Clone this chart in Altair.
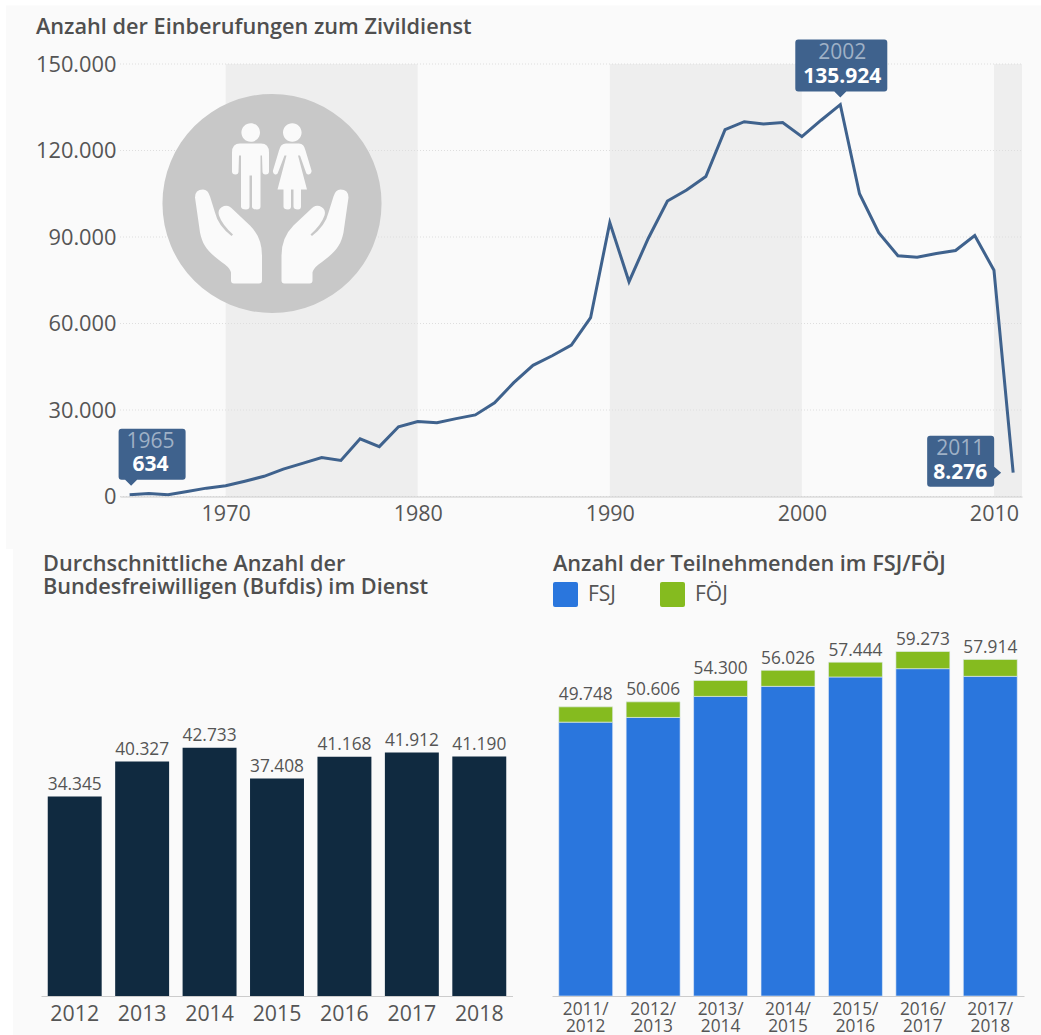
import re

import altair as alt
import pandas as pd

# Zivildienst call-ups per year
years = list(range(1965, 2012))
callups = [634, 1000, 600, 1700, 2900, 3700, 5300, 7000, 9500, 11500,
           13500, 12500, 20000, 17300, 24200, 26000, 25600, 27000, 28300, 32500,
           39500, 45500, 48800, 52500, 62000, 95000, 74500, 89500, 102500, 106300,
           111000, 127200, 130000, 129200, 129700, 124800, 130500, 135924, 105000, 91500,
           83500, 83000, 84300, 85300, 90500, 78500, 8276]
y_ticks = [0, 30000, 60000, 90000, 120000, 150000]
x_ticks = [1970, 1980, 1990, 2000, 2010]
band_start = [1970, 1990, 2010]
band_end = [1980, 2000, 2011.46]

# Bufdis on duty
bufdi_years = ["2012", "2013", "2014", "2015", "2016", "2017", "2018"]
bufdi_values = [34345, 40327, 42733, 37408, 41168, 41912, 41190]

# FSJ / FOEJ participants
seasons = ["2011/2012", "2012/2013", "2013/2014", "2014/2015", "2015/2016", "2016/2017", "2017/2018"]
season_totals = [49748, 50606, 54300, 56026, 57444, 59273, 57914]
fsj_values = [47120, 47930, 51550, 53280, 54890, 56320, 55000]

FONT = "Open Sans"
TEXT = "#555555"
TITLE = "#4f4f4f"
PANEL = "#fafafa"
LINE = "#3f628d"
DE_NUM = "replace(format(%s, ','), ',', '.')"


def unit_path(path, k):
    """Rescale x,y pairs of an M/L/Q/C path to the -1..1 box used by custom symbols."""
    out = []
    for tok in re.findall(r"-?\d+\.?\d*|[MLQCZ]", path):
        out.append(tok if tok in "MLQCZ" else f"{float(tok) / k:.4f}")
    return " ".join(out)


def shifted(path, cx, cy, mirror=None):
    """Move absolute pixel-style coordinates so that (cx, cy) becomes the origin."""
    out, is_x = [], True
    for tok in re.findall(r"-?\d+\.?\d*|[MLQCZ]", path):
        if tok in "MLQCZ":
            out.append(tok)
            continue
        v = float(tok)
        if is_x:
            if mirror is not None:
                v = mirror - v
            out.append(str(v - cx))
        else:
            out.append(str(v - cy))
        is_x = not is_x
    return " ".join(out)


def head(cx, cy, r):
    c = 0.5523 * r
    return (f"M {cx - r} {cy} C {cx - r} {cy - c} {cx - c} {cy - r} {cx} {cy - r} "
            f"C {cx + c} {cy - r} {cx + r} {cy - c} {cx + r} {cy} "
            f"C {cx + r} {cy + c} {cx + c} {cy + r} {cx} {cy + r} "
            f"C {cx - c} {cy + r} {cx - r} {cy + c} {cx - r} {cy} Z")


MAN = ("M 240 143 L 261 143 Q 269 143 269 152 L 269 171 Q 269 174 265.5 174 Q 262.5 174 262.5 171 "
       "L 262 155 L 260.5 155 L 260.5 206 Q 260.5 209 257 209 Q 252 209 252 206 L 252 175 L 249.5 175 "
       "L 249.5 206 Q 249.5 209 246 209 Q 241 209 241 206 L 241 155 L 239 155 L 238.5 171 Q 238.5 174 235.5 174 "
       "Q 232 174 232 171 L 232 152 Q 232 143 240 143 Z")
WOMAN = ("M 286 143 L 299 143 Q 304 143 305.5 150 L 311.5 170 Q 312 173 309 174 Q 306.5 174.5 306 172 "
         "L 300 155 L 298 155 L 307 189 L 301 189 L 301 206 Q 301 209 298 209 Q 293.5 209 293.5 206 L 293.5 189 "
         "L 291 189 L 291 206 Q 291 209 288 209 Q 283.5 209 283.5 206 L 283.5 189 L 277.5 189 L 286.5 155 L 284.5 155 "
         "L 278 172 Q 277.5 174.5 275 174 Q 272.5 173 273 170 L 279 150 Q 280.5 143 286 143 Z")
HAND = ("M 195 197 Q 195 189 203 189 Q 208 189 210 196 L 215 212 Q 218 225 231.5 235.5 L 233 234 "
        "Q 222 224 219 215 Q 217 208 224 205.5 Q 229 204 233 209 L 250 225 Q 262 237 262 255 L 262 280 "
        "Q 262 283 259 283 L 234 283 Q 231 283 231 280 L 231 272 Q 230 268 225 264 C 210 253 203 247 200 232 Z")

ICON_K = 110
icon_parts = [head(250.7, 132, 9.3), head(292.3, 132, 9.3), MAN, WOMAN]
icon_path = " ".join(unit_path(shifted(p, 272, 203), ICON_K) for p in icon_parts)
icon_path += " " + unit_path(shifted(HAND, 272, 203), ICON_K)
icon_path += " " + unit_path(shifted(HAND, 272, 203, mirror=543.5), ICON_K)


def callout(x0, x1, y0, y1, tip, side):
    """Rounded box with a small pointer, expressed relative to the annotated point."""
    r, w = 3, 6
    tx, ty = tip
    top = f"L {x1 - r} {y0}"
    right = f"L {x1} {y1 - r}"
    bottom = f"L {x0 + r} {y1}"
    if side == "bottom":
        bottom = f"L {tx + w} {y1} L {tx} {ty} L {tx - w} {y1} L {x0 + r} {y1}"
    if side == "right":
        right = f"L {x1} {ty - w} L {tx} {ty} L {x1} {ty + w} L {x1} {y1 - r}"
    return (f"M {x0 + r} {y0} {top} Q {x1} {y0} {x1} {y0 + r} {right} Q {x1} {y1} {x1 - r} {y1} "
            f"{bottom} Q {x0} {y1} {x0} {y1 - r} L {x0} {y0 + r} Q {x0} {y0} {x0 + r} {y0} Z")


BOX_K = 100
callouts = [
    # year, box path, label dx, dy of first and second line
    (1965, callout(-11, 56, -66, -15, (1.5, -9), "bottom"), 21, -53, -30),
    (2002, callout(-45, 47, -65, -13, (0, -7), "bottom"), 2, -52, -28),
    (2011, callout(-86, -19, -37, 14, (-12, 0), "right"), -53, -24, 0),
]

one = pd.DataFrame({"a": [0]})


def panel(x, x2, y, y2):
    return alt.Chart(one).mark_rect(color=PANEL).encode(
        x=alt.value(x), x2=alt.value(x2), y=alt.value(y), y2=alt.value(y2))


def heading(lines, x, y):
    """Panel heading, written as one text mark per chart."""
    return alt.Chart(one).mark_text(
        text=lines, font=FONT, fontSize=21.7, fontWeight=600, color=TITLE, align="left",
        baseline="middle", lineHeight=23).encode(x=alt.value(x), y=alt.value(y))


# ---- top: line chart
line_df = pd.DataFrame({"year": years, "value": callups})
band_df = pd.DataFrame({"start": band_start, "end": band_end})
tick_df = pd.DataFrame({"tick": y_ticks})
X_SCALE = alt.Scale(domain=[1964.5, 2011.46], range=[79, 981], nice=False)
Y_SCALE = alt.Scale(domain=[0, 150000], nice=False)

x_axis = alt.Axis(values=x_ticks, format="d", title=None, grid=False, ticks=False, domainColor="#cccccc",
                  domainWidth=1, labelFont=FONT, labelFontSize=21.5, labelColor=TEXT, labelPadding=7,
                  labelFlush=False, labelOverlap=False, zindex=1)
y_axis = alt.Axis(values=y_ticks, title=None, grid=False, ticks=False, domain=False, offset=-79,
                  labelFont=FONT, labelFontSize=21.8, labelColor=TEXT, labelPadding=4,
                  labelExpr=DE_NUM % "datum.value", zindex=1)
x_enc = alt.X("year:Q", scale=X_SCALE, axis=x_axis)
y_enc = alt.Y("value:Q", scale=Y_SCALE, axis=y_axis)

bands = alt.Chart(band_df).mark_rect(color="#eeeeee").encode(
    x=alt.X("start:Q", scale=X_SCALE, axis=x_axis), x2="end:Q",
    y=alt.datum(0, scale=Y_SCALE, axis=y_axis), y2=alt.datum(150000))
grid = alt.Chart(tick_df).mark_rule(color="#dedede", strokeWidth=1, strokeDash=[1, 2]).encode(
    y=alt.Y("tick:Q", scale=Y_SCALE, axis=y_axis), x=alt.value(79), x2=alt.value(981))
disc = alt.Chart(one).mark_point(shape="circle", filled=True, fill="#c8c8c8", size=48000, opacity=1,
                                 strokeWidth=0).encode(x=alt.value(231), y=alt.value(139.5))
figures = alt.Chart(one).mark_point(shape=icon_path, filled=True, fill=PANEL, size=(2 * ICON_K) ** 2,
                                    opacity=1, strokeWidth=0).encode(x=alt.value(231), y=alt.value(139.5))
trend = alt.Chart(line_df).mark_line(color=LINE, strokeWidth=3, strokeJoin="miter").encode(x=x_enc, y=y_enc)

labels = []
base = alt.Chart(line_df).transform_calculate(label=DE_NUM % "datum.value", yr="'' + datum.year")
for yr, box, dx, dy1, dy2 in callouts:
    mark = base.transform_filter(f"datum.year == {yr}")
    labels.append(mark.mark_point(shape=unit_path(box, BOX_K), filled=True, fill=LINE, opacity=1,
                                  size=(2 * BOX_K) ** 2, strokeWidth=0).encode(x=x_enc, y=y_enc))
    labels.append(mark.mark_text(font=FONT, fontSize=21, color="#9fb1c6", dx=dx, dy=dy1).encode(
        x=x_enc, y=y_enc, text="yr:N"))
    labels.append(mark.mark_text(font=FONT, fontSize=21, fontWeight=700, color="#ffffff", dx=dx, dy=dy2).encode(
        x=x_enc, y=y_enc, text="label:N"))

top = alt.layer(panel(-35, 1000, -58.5, 485), bands, grid, disc, figures, trend, *labels,
                heading("Anzahl der Einberufungen zum Zivildienst", -5, -37)).properties(
    width=981, height=432.5)

# ---- bottom left: Bufdis
BAR_MAX = 62800
bufdi_df = pd.DataFrame({"year": bufdi_years, "value": bufdi_values})
BAR_AXIS = dict(title=None, ticks=False, domainColor="#cccccc", domainWidth=1, labelFont=FONT,
                labelColor=TEXT, labelAngle=0, grid=False, labelOverlap=False, zindex=1)
left_x = alt.X("year:N", scale=alt.Scale(paddingInner=0.2, paddingOuter=0.1),
               axis=alt.Axis(labelFontSize=21.3, labelPadding=7, **BAR_AXIS))
bar_y = alt.Scale(domain=[0, BAR_MAX], nice=False)
left_bars = alt.Chart(bufdi_df).mark_bar(color="#102a40").encode(
    x=left_x, y=alt.Y("value:Q", scale=bar_y, axis=None))
left_text = alt.Chart(bufdi_df).transform_calculate(label=DE_NUM % "datum.value").mark_text(
    font=FONT, fontSize=17.3, color=TEXT, baseline="middle", dy=-11.5).encode(
    x=left_x, y=alt.Y("value:Q", scale=bar_y, axis=None), text="label:N")
left = alt.layer(panel(-28, 472, -82, 405), left_bars, left_text,
                 heading(["Durchschnittliche Anzahl der", "Bundesfreiwilligen (Bufdis) im Dienst"], 2, -67)
                 ).properties(width=472, height=365)

# ---- bottom right: FSJ / FOEJ stacked bars
stack_df = pd.DataFrame({
    "season": seasons * 2,
    "kind": ["FSJ"] * 7 + ["FÖJ"] * 7,
    "low": [0] * 7 + fsj_values,
    "high": fsj_values + season_totals,
})
total_df = pd.DataFrame({"season": seasons, "value": season_totals})
right_x = alt.X("season:N", scale=alt.Scale(paddingInner=0.2, paddingOuter=0.1),
                axis=alt.Axis(labelFontSize=17.3, labelPadding=4, labelLineHeight=17.5,
                              labelExpr="[slice(datum.label, 0, 5), slice(datum.label, 5)]", **BAR_AXIS))
SWATCH = ("M -0.84 -1 L 0.84 -1 Q 1 -1 1 -0.84 L 1 0.84 Q 1 1 0.84 1 L -0.84 1 Q -1 1 -1 0.84 "
          "L -1 -0.84 Q -1 -1 -0.84 -1 Z")
right_bars = alt.Chart(stack_df).mark_bar(stroke="#e6eef8", strokeWidth=0.6).encode(
    x=right_x, y=alt.Y("low:Q", scale=bar_y, axis=None), y2="high:Q",
    color=alt.Color("kind:N",
                    scale=alt.Scale(domain=["FSJ", "FÖJ"], range=["#2a76dd", "#85bb1f"]),
                    legend=alt.Legend(orient="none", legendX=1, legendY=-49, direction="horizontal", title=None,
                                      symbolType=SWATCH, symbolSize=625, symbolStrokeWidth=0, labelFont=FONT,
                                      labelFontSize=21, labelColor=TEXT, labelOffset=10, columnPadding=44,
                                      symbolOpacity=1)))
right_text = alt.Chart(total_df).transform_calculate(label=DE_NUM % "datum.value").mark_text(
    font=FONT, fontSize=17.3, color=TEXT, baseline="middle", dy=-11.5).encode(
    x=right_x, y=alt.Y("value:Q", scale=bar_y, axis=None), text="label:N")
right = alt.layer(panel(-39, 489, -82, 405), right_bars, right_text,
                  heading("Anzahl der Teilnehmenden im FSJ/FÖJ", 1, -67)
                  ).properties(width=472, height=365)

bottom = alt.hconcat(left, right, spacing=39, bounds="flush").resolve_scale(color="independent")
chart = alt.vconcat(top, bottom, spacing=134, bounds="flush").properties(
    padding={"left": 6, "top": 5, "right": 0, "bottom": 0}, background="#ffffff"
).configure_view(stroke=None)

chart.save("out.html", embed_options={"renderer": "svg", "actions": False})
